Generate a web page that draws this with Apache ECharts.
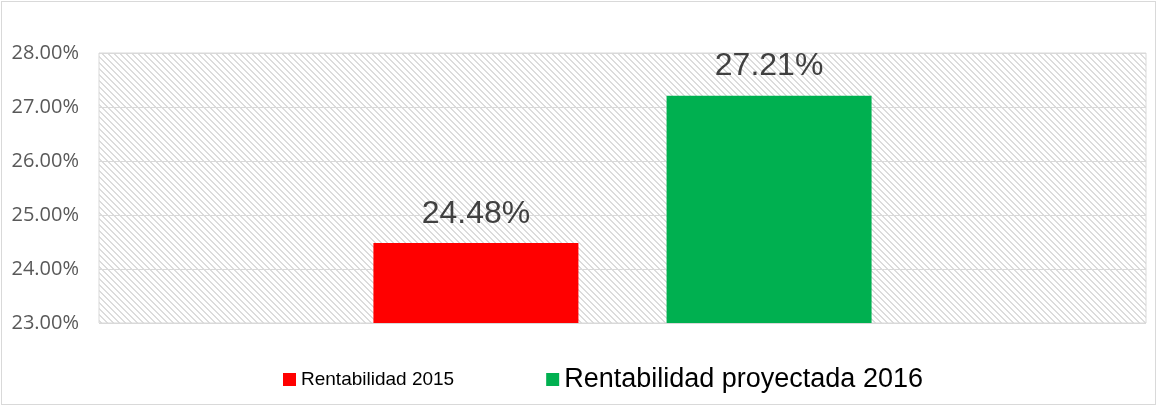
<!DOCTYPE html>
<html>
<head>
<meta charset="utf-8">
<script src="https://cdn.jsdelivr.net/npm/echarts@6/dist/echarts.min.js"></script>
<style>
  html, body { margin: 0; padding: 0; background: #fff; }
  #box { position: absolute; left: 1px; top: 1px; width: 1153px; height: 402px; border: 1px solid #d9d9d9; }
  #chart { width: 1153px; height: 402px; }
</style>
</head>
<body>
<div id="box"><div id="chart"></div></div>
<script>
  // datos
  var categorias = ['Rentabilidad'];
  var serieNombres = ['Rentabilidad 2015', 'Rentabilidad proyectada 2016'];
  var valores2015 = [24.48];
  var valores2016 = [27.21];
  var colores = ['#ff0000', '#00b050'];

  // patron rayado del fondo
  var pat = document.createElement('canvas');
  pat.width = 6; pat.height = 6;
  var ctx = pat.getContext('2d');
  ctx.fillStyle = '#ffffff';
  ctx.fillRect(0, 0, 6, 6);
  ctx.fillStyle = '#dcdcdc';
  for (var i = 0; i < 6; i++) {
    ctx.fillRect(i, i, 1, 1);
    ctx.fillRect((i + 1) % 6, i, 1, 1);
  }

  var myChart = echarts.init(document.getElementById('chart'));
  myChart.setOption({
    animation: false,
    grid: {
      left: 97, right: 9, top: 51, bottom: 81,
      show: true,
      backgroundColor: { image: pat, repeat: 'repeat' },
      borderColor: '#d9d9d9',
      borderWidth: 1
    },
    legend: {
      bottom: 6,
      left: 276,
      itemWidth: 13,
      itemHeight: 13,
      itemGap: 92,
      icon: 'rect',
      data: [
        { name: serieNombres[0], textStyle: { fontSize: 19, color: '#000', fontFamily: 'Liberation Sans' } },
        { name: serieNombres[1], textStyle: { fontSize: 27, color: '#000', fontFamily: 'Liberation Sans' } }
      ]
    },
    xAxis: {
      type: 'category',
      data: categorias,
      axisLine: { show: false },
      axisTick: { show: false },
      axisLabel: { show: false }
    },
    yAxis: {
      type: 'value',
      min: 23,
      max: 28,
      interval: 1,
      axisLine: { show: false },
      axisTick: { show: false },
      splitLine: { lineStyle: { color: '#d9d9d9', width: 1 } },
      axisLabel: {
        margin: 20,
        fontSize: 20,
        color: '#595959',
        fontFamily: 'Open Sans',
        formatter: function (v) { return v.toFixed(2) + '%'; }
      }
    },
    series: [
      {
        name: serieNombres[0],
        type: 'bar',
        data: valores2015,
        barWidth: 205,
        barGap: '43%',
        itemStyle: { color: colores[0] },
        label: {
          show: true, position: 'top', distance: 13,
          fontSize: 32, color: '#404040', fontFamily: 'Liberation Sans',
          formatter: function (p) { return p.value.toFixed(2) + '%'; }
        }
      },
      {
        name: serieNombres[1],
        type: 'bar',
        data: valores2016,
        barWidth: 205,
        itemStyle: { color: colores[1] },
        label: {
          show: true, position: 'top', distance: 13,
          fontSize: 32, color: '#404040', fontFamily: 'Liberation Sans',
          formatter: function (p) { return p.value.toFixed(2) + '%'; }
        }
      }
    ]
  });
</script>
</body>
</html>
